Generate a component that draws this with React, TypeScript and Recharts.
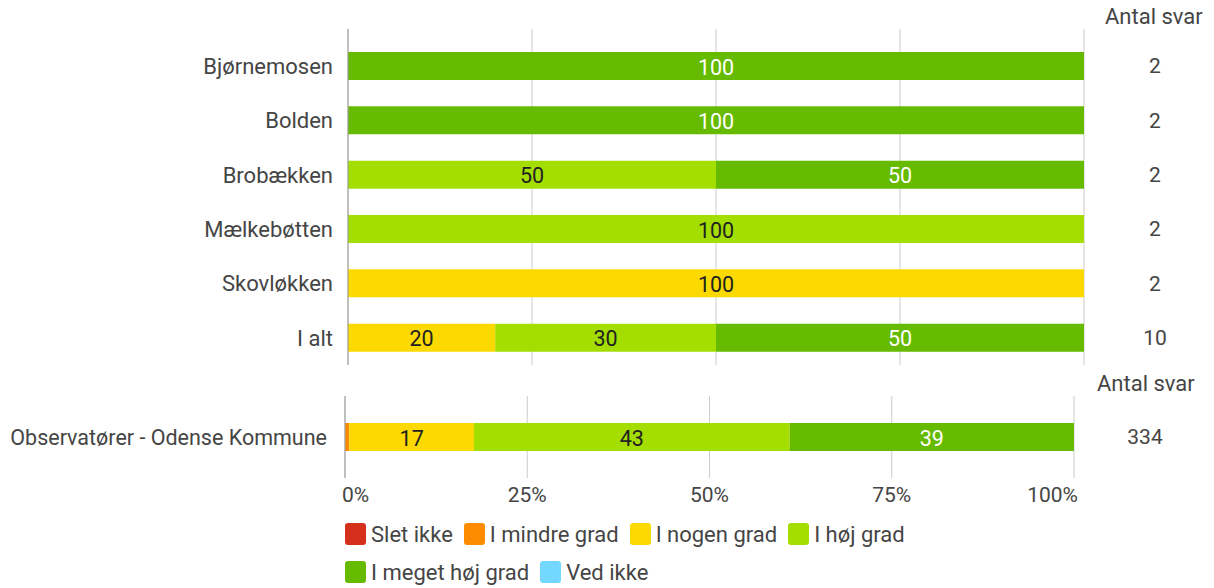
import React from "react";
import { Bar, BarChart, CartesianGrid, LabelList, XAxis, YAxis } from "recharts";

// categories
const groups = ["Bjørnemosen", "Bolden", "Brobækken", "Mælkebøtten", "Skovløkken", "I alt"];
const answerCounts = [2, 2, 2, 2, 2, 10];

// percent per answer, top chart
const sletIkke = [0, 0, 0, 0, 0, 0];
const mindreGrad = [0, 0, 0, 0, 0, 0];
const nogenGrad = [0, 0, 0, 0, 100, 20];
const hojGrad = [0, 0, 50, 100, 0, 30];
const megetHojGrad = [100, 100, 50, 0, 0, 50];
const vedIkke = [0, 0, 0, 0, 0, 0];

// bottom chart (whole municipality)
const totalGroups = ["Observatører - Odense Kommune"];
const totalCounts = [334];
const totalSletIkke = [0];
const totalMindreGrad = [0.6];
const totalNogenGrad = [17.1];
const totalHojGrad = [43.3];
const totalMegetHojGrad = [39.0];
const totalVedIkke = [0];

const pctTicks = [0, 25, 50, 75, 100];

const series = [
  { key: "sletIkke", name: "Slet ikke", color: "#d4301b", text: "#fff" },
  { key: "mindreGrad", name: "I mindre grad", color: "#ff8c00", text: "#fff" },
  { key: "nogenGrad", name: "I nogen grad", color: "#fcd900", text: "#222" },
  { key: "hojGrad", name: "I høj grad", color: "#a4dd00", text: "#222" },
  { key: "megetHojGrad", name: "I meget høj grad", color: "#66bb00", text: "#fff" },
  { key: "vedIkke", name: "Ved ikke", color: "#73d7ff", text: "#222" },
];

const data = groups.map((g, i) => ({
  group: g,
  n: answerCounts[i],
  sletIkke: sletIkke[i],
  mindreGrad: mindreGrad[i],
  nogenGrad: nogenGrad[i],
  hojGrad: hojGrad[i],
  megetHojGrad: megetHojGrad[i],
  vedIkke: vedIkke[i],
}));

const totalData = totalGroups.map((g, i) => ({
  group: g,
  n: totalCounts[i],
  sletIkke: totalSletIkke[i],
  mindreGrad: totalMindreGrad[i],
  nogenGrad: totalNogenGrad[i],
  hojGrad: totalHojGrad[i],
  megetHojGrad: totalMegetHojGrad[i],
  vedIkke: totalVedIkke[i],
}));

const TEXT = "#454545";

const valueLabel = (fill: string) => (props: any) => {
  const { x, y, width, height, value } = props;
  if (!value || value < 5) return null;
  return (
    <text x={x + width / 2} y={y + height / 2} dy={1} fill={fill} fontSize={21.5} textAnchor="middle" dominantBaseline="central">
      {Math.round(value)}
    </text>
  );
};

const countTick = (shift: number) => (props: any) => {
  const { x, y, payload } = props;
  return (
    <text x={x + shift} y={y} fill={TEXT} fontSize={21} textAnchor="middle" dominantBaseline="central">
      {payload.value}
    </text>
  );
};

const pctTick = (props: any) => {
  const { x, y, payload } = props;
  const v = payload.value;
  const anchor = v === 0 ? "start" : v === 100 ? "end" : "middle";
  const dx = v === 0 ? -3 : v === 100 ? 4 : 0;
  return (
    <text x={x + dx} y={y} dy={15} fill={TEXT} fontSize={21} textAnchor={anchor}>
      {v}%
    </text>
  );
};

function bars() {
  return series.map((s) => (
    <Bar key={s.key} dataKey={s.key} name={s.name} stackId="a" fill={s.color} barSize={28} isAnimationActive={false}>
      <LabelList dataKey={s.key} content={valueLabel(s.text)} />
    </Bar>
  ));
}

export default function App() {
  return (
    <div style={{ position: "absolute", left: 0, top: 0, width: 1214, height: 588, background: "#fff", fontFamily: "Roboto, sans-serif", color: TEXT }}>
      <div style={{ position: "absolute", left: 1105, top: 4, fontSize: 22 }}>Antal svar</div>
      <div style={{ position: "absolute", left: 0, top: 0 }}>
        <BarChart width={1214} height={370} data={data} layout="vertical" margin={{ top: 29, right: 0, left: 0, bottom: 5 }} barCategoryGap={0}>
          <CartesianGrid horizontal={false} stroke="#cccccc" />
          <XAxis type="number" domain={[0, 100]} ticks={pctTicks} hide />
          <YAxis type="category" dataKey="group" width={348} axisLine={{ stroke: "#999" }} tickLine={false} tickMargin={9} tick={{ fill: TEXT, fontSize: 22 }} padding={{ top: 10, bottom: 0 }} />
          <YAxis yAxisId="right" type="category" dataKey="n" orientation="right" width={130} axisLine={false} tickLine={false} tick={countTick(69)} tickSize={0} padding={{ top: 10, bottom: 0 }} />
          {bars()}
        </BarChart>
      </div>
      <div style={{ position: "absolute", left: 1097, top: 371, fontSize: 22 }}>Antal svar</div>
      <div style={{ position: "absolute", left: 0, top: 380 }}>
        <BarChart width={1214} height={130} data={totalData} layout="vertical" margin={{ top: 16, right: 0, left: 0, bottom: 0 }}>
          <CartesianGrid horizontal={false} stroke="#cccccc" />
          <XAxis type="number" domain={[0, 100]} ticks={pctTicks} axisLine={false} tickLine={false} tickMargin={3} height={32} tick={pctTick} />
          <YAxis type="category" dataKey="group" width={345} axisLine={{ stroke: "#999" }} tickLine={false} tickMargin={12} tick={{ fill: TEXT, fontSize: 21.5 }} />
          <YAxis yAxisId="right" type="category" dataKey="n" orientation="right" width={140} axisLine={false} tickLine={false} tick={countTick(69)} tickSize={0} />
          {bars()}
        </BarChart>
      </div>
      <div style={{ position: "absolute", left: 345, top: 523, width: 620, display: "flex", flexWrap: "wrap", rowGap: 16, columnGap: 11, fontSize: 22 }}>
        {series.map((s) => (
          <div key={s.key} style={{ display: "flex", alignItems: "center", height: 22 }}>
            <span style={{ width: 21, height: 22, borderRadius: 3, background: s.color, marginRight: 5 }} />
            <span>{s.name}</span>
          </div>
        ))}
      </div>
    </div>
  );
}
